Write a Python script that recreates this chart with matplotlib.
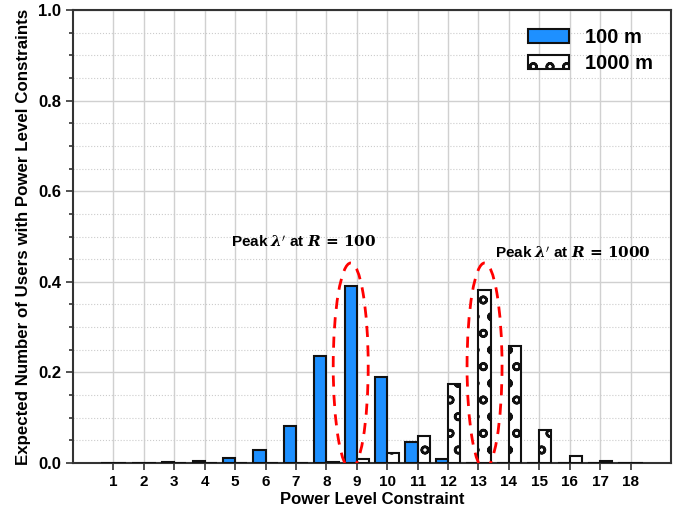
import matplotlib
matplotlib.use("Agg")
import matplotlib.pyplot as plt
from matplotlib.patches import Ellipse
from matplotlib.ticker import MultipleLocator, FormatStrFormatter
import numpy as np

plt.rcParams['font.family'] = ['Liberation Sans', 'DejaVu Sans']
plt.rcParams['mathtext.fontset'] = 'dejavuserif'
plt.rcParams['hatch.linewidth'] = 1.8

levels = list(range(1, 19))
vals_100 = [0.001, 0.001, 0.002, 0.004, 0.011, 0.029, 0.082, 0.237, 0.391, 0.189,
            0.046, 0.009, 0.001, 0.0005, 0.0, 0.0, 0.0, 0.0]
vals_1000 = [0.0, 0.0, 0.0, 0.0, 0.0, 0.0005, 0.001, 0.003, 0.009, 0.021,
             0.060, 0.174, 0.382, 0.259, 0.072, 0.015, 0.004, 0.001]
series_labels = ["100 m", "1000 m"]
peak_labels = [r"Peak $\mathbfit{\lambda}'$ at $\mathbfit{R}\,\mathbf{=}\,\mathbf{100}$",
               r"Peak $\mathbfit{\lambda}'$ at $\mathbfit{R}\,\mathbf{=}\,\mathbf{1000}$"]

fig = plt.figure(figsize=(6.86, 5.15), dpi=100)
ax = fig.add_axes([73/686, 1 - 463/515, (671-73)/686, (463-10)/515])

x = np.array(levels)
ax.bar(x, vals_100, width=-0.4, align='edge', color='#1E90FF', edgecolor='#111111',
       linewidth=1.5, label=series_labels[0], zorder=3)
ax.bar(x, vals_1000, width=0.4, align='edge', color='white', edgecolor='#111111',
       linewidth=1.5, hatch='o', label=series_labels[1], zorder=3)

ax.set_xlim(-0.33, 19.33)
ax.set_ylim(0, 1.0)
ax.set_xticks(levels)
ax.set_xticklabels([str(v) for v in levels], fontweight='bold', fontsize=11)
ax.yaxis.set_major_locator(MultipleLocator(0.2))
ax.yaxis.set_minor_locator(MultipleLocator(0.05))
ax.yaxis.set_major_formatter(FormatStrFormatter('%.1f'))
ax.tick_params(axis='y', labelsize=12)
ax.tick_params(axis='both', which='both', direction='out', color='#333333', width=1.2)
ax.tick_params(axis='both', which='major', length=5)
ax.tick_params(axis='y', which='minor', length=3)
ax.grid(True, which='major', color='#d0d0d0', linewidth=1.0, zorder=0)
ax.grid(True, which='minor', axis='y', color='#cccccc', linestyle=':', linewidth=0.8, zorder=0)
ax.set_axisbelow(True)
for s in ax.spines.values():
    s.set_color('#333333')
    s.set_linewidth(1.5)

ax.set_xlabel("Power Level Constraint", fontweight='bold', fontsize=12, labelpad=2)
ax.set_ylabel("Expected Number of Users with Power Level Constraints", fontweight='bold',
              fontsize=12.2, labelpad=5)

for cx in (8.8, 13.2):
    e = Ellipse((cx, 0.214), width=1.15, height=0.455, fill=False, edgecolor='red',
                linestyle=(0, (4, 3)), linewidth=2, zorder=5)
    ax.add_patch(e)

ax.text(7.25, 0.488, peak_labels[0], ha='center', va='center', fontsize=11, fontweight='bold')
ax.text(16.1, 0.463, peak_labels[1], ha='center', va='center', fontsize=11, fontweight='bold')

leg = ax.legend(loc='upper right', frameon=False, prop={'weight': 'bold', 'size': 14.5},
                handlelength=2.0, handleheight=0.7, handletextpad=0.8,
                borderaxespad=0.5, labelspacing=0.35)

for lab in ax.get_yticklabels():
    lab.set_fontweight('bold')

fig.savefig("out.png", dpi=100)
